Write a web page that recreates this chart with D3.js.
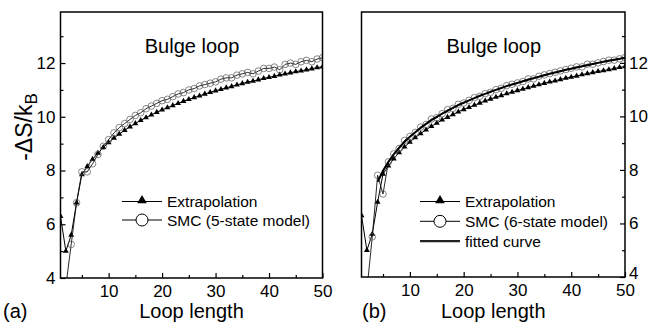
<!DOCTYPE html>
<html>
  <head>
    <title>Bulge loop entropy</title>
    <meta charset="UTF-8">
    <script src="https://d3js.org/d3.v7.min.js" charset="utf-8"></script>
    <style>
      body { margin: 0; background: #fff; }
      svg text { font-family: "Liberation Sans", Arial, sans-serif; fill: #000; }
    </style>
  </head>
  <body>
    <svg id="chart" width="651" height="325"></svg>
    <script>

/* DATA */

var loopLength = [1,2,3,4,5,6,7,8,9,10,11,12,13,14,15,16,17,18,19,20,21,22,23,24,25,
  26,27,28,29,30,31,32,33,34,35,36,37,38,39,40,41,42,43,44,45,46,47,48,49,50];

// filled triangles, same in both panels
var extrapolation = [6.3,5.0,5.6,6.8,7.85,8.15,8.42,8.65,8.86,9.04,9.21,9.36,9.50,9.63,9.75,
  9.87,9.97,10.07,10.17,10.26,10.34,10.42,10.50,10.58,10.65,10.72,10.78,10.85,10.91,10.97,
  11.02,11.08,11.13,11.19,11.24,11.29,11.33,11.38,11.43,11.47,11.51,11.56,11.60,11.64,11.68,
  11.71,11.75,11.79,11.83,11.86];

// open circles, panel (a)
var smc5 = [null,3.7,5.25,6.8,7.95,7.95,8.25,8.6,8.9,9.15,9.4,9.6,9.75,9.9,10.05,
  10.15,10.3,10.4,10.5,10.6,10.65,10.75,10.85,10.9,11.0,11.05,11.15,11.2,11.25,11.3,
  11.4,11.45,11.45,11.55,11.6,11.65,11.6,11.7,11.8,11.8,11.85,11.75,11.95,12.0,11.95,
  12.05,12.1,12.05,12.15,12.2];

// open circles, panel (b)
var smc6 = [null,3.5,5.5,7.8,7.1,8.3,8.6,8.8,9.1,9.25,9.4,9.6,9.7,9.9,9.95,
  10.1,10.25,10.3,10.45,10.5,10.6,10.7,10.75,10.85,10.9,11.0,11.05,11.15,11.2,11.25,
  11.3,11.4,11.4,11.5,11.55,11.6,11.65,11.7,11.75,11.8,11.85,11.85,11.95,11.95,12.0,
  12.05,12.1,12.1,12.15,12.2];

// thick line, panel (b)
var fittedCurve = [null,null,null,7.56,7.97,8.30,8.58,8.83,9.05,9.24,9.41,9.57,9.72,9.86,9.98,
  10.10,10.21,10.32,10.42,10.51,10.60,10.68,10.77,10.84,10.92,10.99,11.06,11.13,11.19,11.25,
  11.31,11.37,11.43,11.48,11.54,11.59,11.64,11.69,11.74,11.78,11.83,11.87,11.91,11.96,12.00,
  12.04,12.08,12.12,12.15,12.19];

var xTicks = [10,20,30,40,50];
var xMinorTicks = [5,15,25,35,45];
var yTicks = [4,6,8,10,12];
var yMinorTicks = [5,7,9,11,13];

var config = {
  "font": "Liberation Sans, Arial, sans-serif",
  "xDomain": [1, 50],
  "yDomain": [4, 13.9]
};

var panels = [
  {"tag": "(a)", "left": 60.5, "right": 322.5, "top": 12, "bottom": 278, "axisSide": "left",
   "smc": smc5, "smcLabel": "SMC (5-state model)", "fit": null,
   "legendX": 122, "legendY": 201.5, "legendGap": 18.5},
  {"tag": "(b)", "left": 361.5, "right": 625, "top": 12, "bottom": 277, "axisSide": "right",
   "smc": smc6, "smcLabel": "SMC (6-state model)", "fit": fittedCurve,
   "legendX": 420, "legendY": 201.5, "legendGap": 19.8}
];

var svg = d3.select("#chart");

panels.forEach(function(p, i){
  var x = d3.scaleLinear().domain(config.xDomain).range([p.left, p.right]);
  var y = d3.scaleLinear().domain(config.yDomain).range([p.bottom, p.top]);
  var g = svg.append("g");

  var clipId = "clip" + i;
  svg.append("clipPath").attr("id", clipId)
    .append("rect")
      .attr("x", p.left).attr("y", p.top)
      .attr("width", p.right - p.left).attr("height", p.bottom - p.top);

  var plot = g.append("g").attr("clip-path", "url(#" + clipId + ")");

  var line = function(values){
    return d3.line()
      .defined(function(d, k){ return values[k] != null; })
      .x(function(d){ return x(d); })
      .y(function(d, k){ return y(values[k]); })(loopLength);
  };

  // extrapolation
  plot.append("path")
    .attr("d", line(extrapolation))
    .attr("fill", "none").attr("stroke", "#000").attr("stroke-width", 1);
  plot.selectAll(".tri").data(loopLength).enter().append("path")
    .attr("class", "tri")
    .attr("transform", function(d, k){ return "translate(" + x(d) + "," + y(extrapolation[k]) + ")"; })
    .attr("d", d3.symbol().type(d3.symbolTriangle).size(15))
    .attr("fill", "#000");

  // SMC
  plot.append("path")
    .attr("d", line(p.smc))
    .attr("fill", "none").attr("stroke", "#111").attr("stroke-width", 0.9);
  plot.selectAll(".circ").data(loopLength.filter(function(d, k){ return p.smc[k] != null; }))
    .enter().append("circle")
    .attr("class", "circ")
    .attr("cx", function(d){ return x(d); })
    .attr("cy", function(d){ return y(p.smc[d - 1]); })
    .attr("r", 3.3)
    .attr("fill", "none").attr("stroke", "#555").attr("stroke-width", 0.7);

  // fitted curve
  if (p.fit) {
    plot.append("path")
      .attr("d", line(p.fit))
      .attr("fill", "none").attr("stroke", "#000").attr("stroke-width", 2);
  }

  // axes, ticks pointing inward
  g.append("g").attr("transform", "translate(0," + p.bottom + ")")
    .call(d3.axisBottom(x).tickValues(xTicks).tickSize(-5).tickPadding(7));
  g.append("g").attr("transform", "translate(0," + p.bottom + ")")
    .call(d3.axisBottom(x).tickValues(xMinorTicks).tickSize(-3).tickFormat(""));

  var yAxisMajor, yAxisMinor, axisX;
  if (p.axisSide == "left") {
    yAxisMajor = d3.axisLeft(y).tickValues(yTicks).tickSize(-5).tickPadding(5);
    yAxisMinor = d3.axisLeft(y).tickValues(yMinorTicks).tickSize(-3).tickFormat("");
    axisX = p.left;
  } else {
    yAxisMajor = d3.axisRight(y).tickValues(yTicks).tickSize(-5).tickPadding(4);
    yAxisMinor = d3.axisRight(y).tickValues(yMinorTicks).tickSize(-3).tickFormat("");
    axisX = p.right;
  }
  var yAxisG = g.append("g").attr("transform", "translate(" + axisX + ",0)").call(yAxisMajor);
  g.append("g").attr("transform", "translate(" + axisX + ",0)").call(yAxisMinor);

  // on the right-hand axis the "4" sits a bit above its tick, clear of the "50"
  if (p.axisSide == "right") {
    yAxisG.selectAll(".tick text").filter(function(d){ return d == 4; }).attr("y", -4);
  }

  g.selectAll(".domain").remove();
  g.selectAll(".tick line").attr("stroke", "#000").attr("stroke-width", 1.2);
  g.selectAll(".tick text").style("font-family", config.font).style("font-size", "17px");

  // frame
  g.append("rect")
    .attr("x", p.left).attr("y", p.top)
    .attr("width", p.right - p.left).attr("height", p.bottom - p.top)
    .attr("fill", "none").attr("stroke", "#000").attr("stroke-width", 1.5);

  // titles
  g.append("text")
    .attr("x", (p.left + p.right) / 2 + 0.5).attr("y", 53)
    .attr("text-anchor", "middle").style("font-size", "20px")
    .text("Bulge loop");
  g.append("text")
    .attr("x", (p.left + p.right) / 2).attr("y", 318)
    .attr("text-anchor", "middle").style("font-size", "20px")
    .text("Loop length");
  g.append("text")
    .attr("x", i == 0 ? 3 : 362).attr("y", 318)
    .style("font-size", "20px")
    .text(p.tag);

  // legend
  var items = [
    {"label": "Extrapolation", "kind": "tri"},
    {"label": p.smcLabel, "kind": "circ"}
  ];
  if (p.fit) items.push({"label": "fitted curve", "kind": "fit"});

  var lg = g.append("g");
  items.forEach(function(it, k){
    var ly = p.legendY + k * p.legendGap;
    lg.append("line")
      .attr("x1", p.legendX).attr("x2", p.legendX + 40)
      .attr("y1", ly).attr("y2", ly)
      .attr("stroke", it.kind == "fit" ? "#222" : "#000")
      .attr("stroke-width", it.kind == "fit" ? 2.2 : 1);
    if (it.kind == "tri") {
      lg.append("path")
        .attr("transform", "translate(" + (p.legendX + 20) + "," + (ly - 1) + ")")
        .attr("d", d3.symbol().type(d3.symbolTriangle).size(40))
        .attr("fill", "#000");
    } else if (it.kind == "circ") {
      lg.append("circle")
        .attr("cx", p.legendX + 20).attr("cy", ly).attr("r", 6)
        .attr("fill", "#fff").attr("stroke", "#000").attr("stroke-width", 1);
    }
    lg.append("text")
      .attr("x", p.legendX + 45).attr("y", ly + 5.5)
      .style("font-size", "15.5px")
      .text(it.label);
  });
});

// y axis title, panel (a)
var yTitle = svg.append("text")
  .attr("transform", "translate(32,127) rotate(-90)")
  .attr("text-anchor", "middle")
  .style("font-size", "23px");
yTitle.append("tspan").text("-\u0394S/k");
yTitle.append("tspan").attr("dy", 5).style("font-size", "17px").text("B");

    </script>
  </body>
</html>
